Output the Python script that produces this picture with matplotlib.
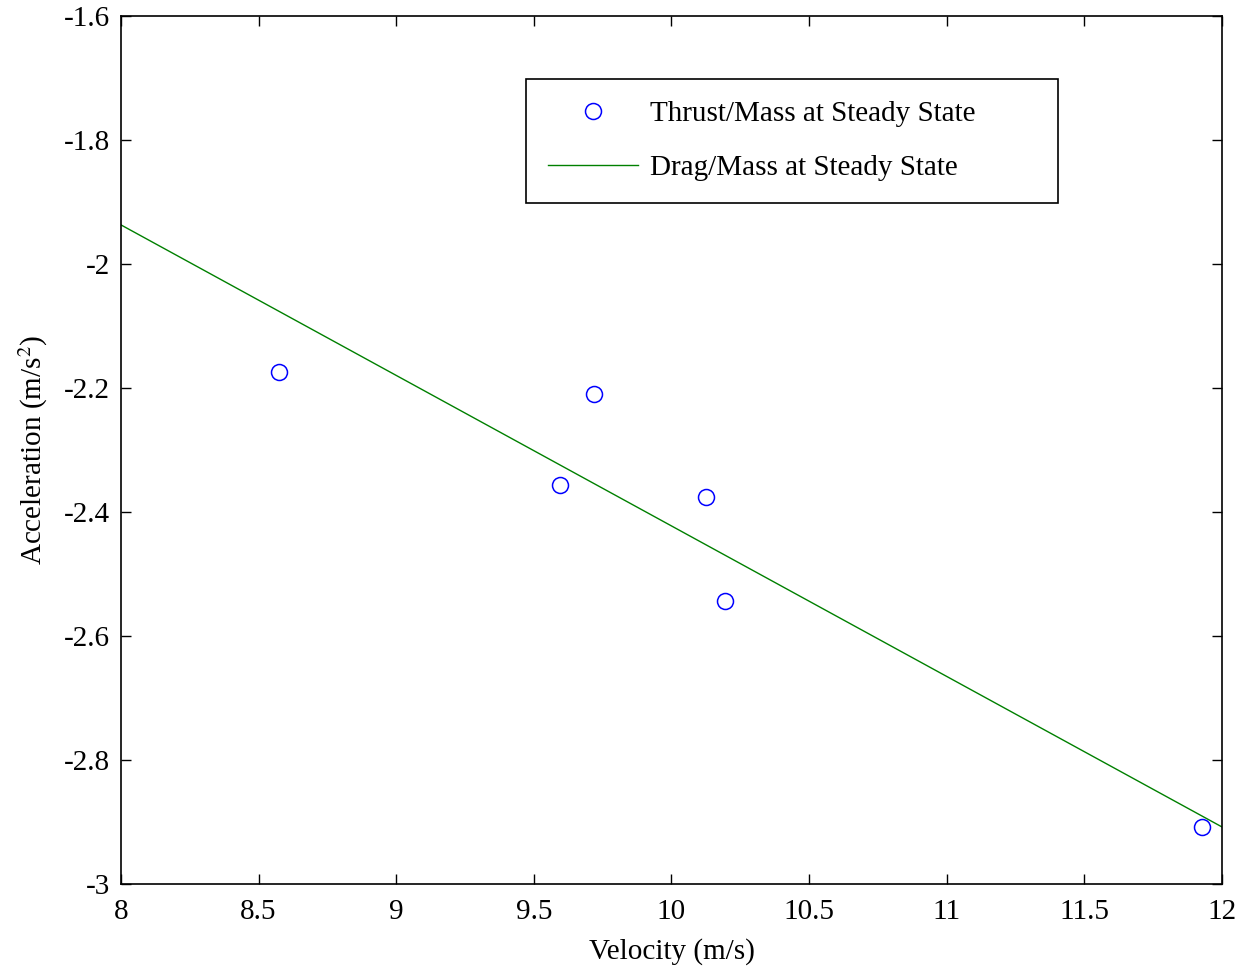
import numpy as np
import matplotlib
matplotlib.use('Agg')
import matplotlib.pyplot as plt

velocity = [8.574, 9.718, 9.595, 10.125, 10.194, 11.927]
thrust_mass = [-2.174, -2.210, -2.356, -2.376, -2.544, -2.908]

# linear drag fit, endpoints at x = 8 and x = 12
fit_x = [8.0, 12.0]
fit_y = [-1.937, -2.908]

xticks = [8, 8.5, 9, 9.5, 10, 10.5, 11, 11.5, 12]
yticks = [-3, -2.8, -2.6, -2.4, -2.2, -2, -1.8, -1.6]

plt.rcParams['font.family'] = ['Liberation Serif', 'DejaVu Serif']
plt.rcParams['mathtext.fontset'] = 'stix'
fs = 21

fig = plt.figure(figsize=(12.46, 9.68), dpi=100)
ax = fig.add_axes([0.0971, 0.0868, 0.8836, 0.8967])

ax.plot(velocity, thrust_mass, 'o', mfc='none', mec='blue', mew=1.1, ms=11.5,
        label='Thrust/Mass at Steady State')
ax.plot(fit_x, fit_y, '-', color='green', lw=1.0, label='Drag/Mass at Steady State')

ax.set_xlim(8, 12)
ax.set_ylim(-3, -1.6)
ax.set_xticks(xticks)
ax.set_xticklabels([f'{t:g}' for t in xticks])
ax.set_yticks(yticks)
ax.set_yticklabels([f'{t:g}' for t in yticks])
ax.tick_params(direction='in', length=7, width=1, top=True, right=True,
               labelsize=fs)
ax.tick_params(axis='x', pad=11)
ax.tick_params(axis='y', pad=8)
for s in ax.spines.values():
    s.set_linewidth(1.2)

ax.set_xlabel('Velocity (m/s)', fontsize=fs, labelpad=9)
ax.set_ylabel('Acceleration (m/s$^2$)', fontsize=fs, labelpad=10)

leg = ax.legend(loc='upper left', bbox_to_anchor=(0.368, 0.787, 0.483, 0.14),
                mode='expand', borderaxespad=0,
                fontsize=fs, fancybox=False, edgecolor='black', framealpha=1,
                handlelength=3.1, handletextpad=0.4, labelspacing=0.95,
                borderpad=0.74, numpoints=1)
leg.get_frame().set_linewidth(1.2)

fig.savefig('out.png', dpi=100)
